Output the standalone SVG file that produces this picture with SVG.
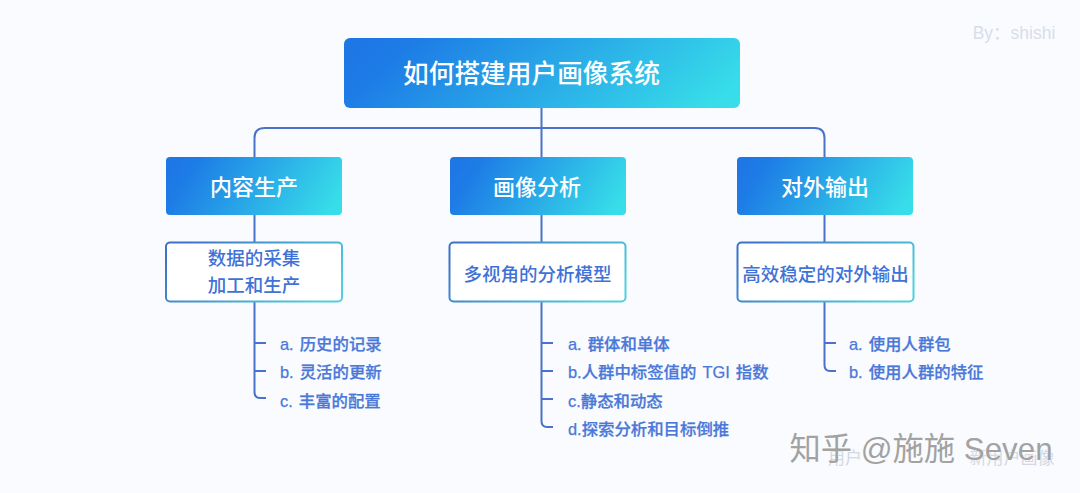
<svg xmlns="http://www.w3.org/2000/svg" width="1080" height="493" viewBox="0 0 1080 493">
<defs>
<linearGradient id="g" x1="0" y1="0.4" x2="1" y2="0.6"><stop offset="0" stop-color="#1d78e6"/><stop offset="0.1" stop-color="#1d7ce6"/><stop offset="1" stop-color="#37dde9"/></linearGradient>
<linearGradient id="gs" x1="0" y1="0.3" x2="1" y2="0.7"><stop offset="0" stop-color="#3d72c8"/><stop offset="1" stop-color="#4fd0de"/></linearGradient>
</defs>
<style>
text{font-family:"Liberation Sans","Noto Sans CJK SC",sans-serif;text-anchor:middle}
.l{fill:none;stroke:#4a72c8;stroke-width:2}
.f{fill:url(#g)}
.o{fill:#fff;stroke:url(#gs);stroke-width:2}
.h{fill:#fff;font-size:22px;font-weight:500}
.s{fill:#3f72d6;font-size:18.500px;font-weight:500}
.i{fill:#4a78d8;stroke:#4a78d8;stroke-width:0.250;font-size:16.400px;font-weight:500;text-anchor:start;word-spacing:1.500px}
.w{font-size:31.300px;fill:#a2a2a2;stroke:#fff;stroke-width:0.600;paint-order:stroke}
.w2{font-size:17px;fill:#d3d8e3}
</style>
<rect width="1080" height="493" fill="#f9fbfe"/>
<text x="1014" y="39" font-size="17.500" fill="#d8deea">By：shishi</text>
<g id="connectors">
<path class="l" d="M541.500 108V157M254.500 157V138Q254.500 128 264.500 128H814.500Q824.500 128 824.500 138V157"/>
<path class="l" d="M254.500 215V242M541.500 215V242M824.500 215V242"/>
<path class="l" d="M254.500 302V392Q254.500 398 260 398H266M254.500 343H266M254.500 371H266"/>
<path class="l" d="M541.500 302V421Q541.500 427 547 427H553M541.500 343H553M541.500 371H553M541.500 399H553"/>
<path class="l" d="M824.500 302V365Q824.500 371 830 371H836M824.500 343H836"/>
</g>
<g id="root"><rect class="f" x="344" y="38" width="396" height="70" rx="6"/><text x="531.500" y="83" fill="#fff" font-size="25.700" font-weight="500">如何搭建用户画像系统</text></g>
<g id="n1"><rect class="f" x="166" y="157" width="176" height="58" rx="4"/><text class="h" x="254" y="195">内容生产</text></g>
<g id="n2"><rect class="f" x="450" y="157" width="176" height="58" rx="4"/><text class="h" x="537" y="195">画像分析</text></g>
<g id="n3"><rect class="f" x="737" y="157" width="176" height="58" rx="4"/><text class="h" x="825" y="195">对外输出</text></g>
<g id="d1"><rect class="o" x="166" y="242.500" width="176" height="59" rx="4"/><text class="s" x="254" y="265">数据的采集</text><text class="s" x="254" y="291.500">加工和生产</text></g>
<g id="d2"><rect class="o" x="449.500" y="242.500" width="176" height="59" rx="4"/><text class="s" x="537.500" y="280.500">多视角的分析模型</text></g>
<g id="d3"><rect class="o" x="737.500" y="242.500" width="176" height="59" rx="4"/><text class="s" x="825.500" y="280.500">高效稳定的对外输出</text></g>
<g id="list1">
<text class="i" x="280" y="350">a. 历史的记录</text>
<text class="i" x="280" y="378">b. 灵活的更新</text>
<text class="i" x="280" y="406.500">c. 丰富的配置</text>
</g>
<g id="list2">
<text class="i" x="568" y="350">a. 群体和单体</text>
<text class="i" x="568" y="378">b.人群中标签值的 TGI 指数</text>
<text class="i" x="568" y="406.500">c.静态和动态</text>
<text class="i" x="568" y="434.500">d.探索分析和目标倒推</text>
</g>
<g id="list3">
<text class="i" x="849" y="350">a. 使用人群包</text>
<text class="i" x="849" y="378">b. 使用人群的特征</text>
</g>
<g id="watermark">
<text class="w2" x="845" y="464">用户</text>
<text class="w2" x="1012" y="464">新用户画像</text>
<text class="w" x="921" y="460">知乎 @施施 Seven</text>
</g>
</svg>
